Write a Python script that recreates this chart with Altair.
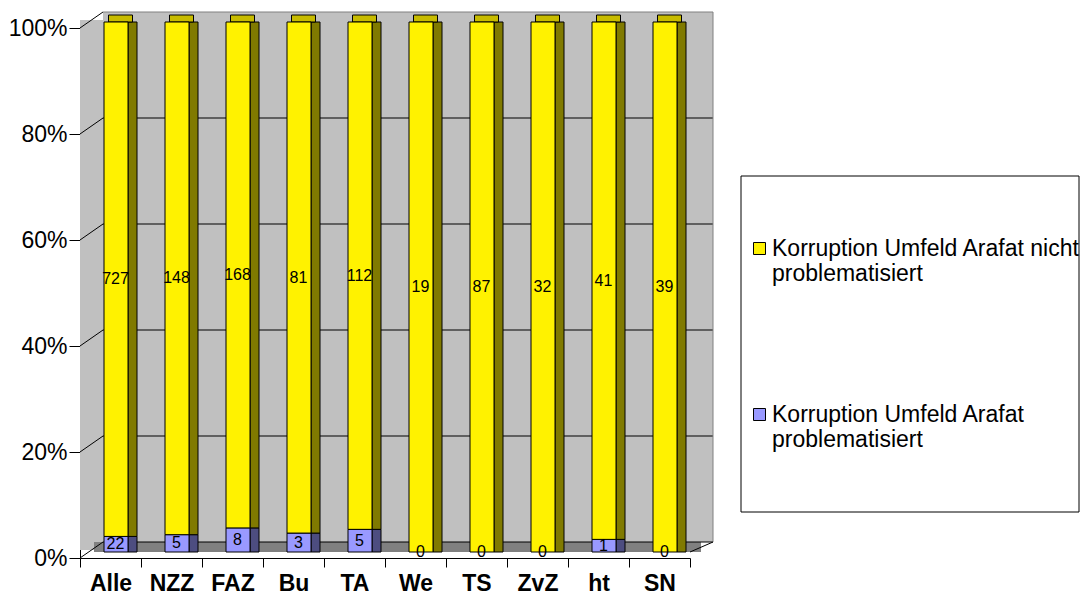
import altair as alt
import pandas as pd

categories = ["Alle", "NZZ", "FAZ", "Bu", "TA", "We", "TS", "ZvZ", "ht", "SN"]
problematisiert = [22, 5, 8, 3, 5, 0, 0, 0, 1, 0]
nicht_problematisiert = [727, 148, 168, 81, 112, 19, 87, 32, 41, 39]
series_names = ["Korruption Umfeld Arafat nicht problematisiert",
                "Korruption Umfeld Arafat problematisiert"]
y_ticks = [0, 0.2, 0.4, 0.6, 0.8, 1.0]

rows = []
for c, p, n in zip(categories, problematisiert, nicht_problematisiert):
    rows.append({"cat": c, "series": series_names[1], "value": p, "ord": 0})
    rows.append({"cat": c, "series": series_names[0], "value": n, "ord": 1})
df = pd.DataFrame(rows)
ticks_df = pd.DataFrame({"t": y_ticks})
one = pd.DataFrame({"k": [0]})

W, H = 610, 530
FONT = "Liberation Sans"
DX, DY = 23, -16

x_axis = alt.Axis(title=None, labelFont=FONT, labelFontSize=23, labelFontWeight="bold",
                  labelColor="black", labelAngle=0, tickBand="extent", tickSize=9,
                  tickColor="black", domainColor="black", labelPadding=5, grid=False)
y_axis = alt.Axis(title=None, values=y_ticks, format="%", labelFont=FONT, labelFontSize=23,
                  labelColor="black", tickSize=11, tickColor="black", domainColor="black",
                  labelPadding=2, grid=False)
ys = alt.Scale(domain=[0, 1])
X = alt.X("cat:N", sort=categories, scale=alt.Scale(paddingInner=0, paddingOuter=0), axis=x_axis)
Y = alt.Y("value:Q", stack="normalize", scale=ys, axis=y_axis)
ORD = alt.Order("ord:Q", sort="ascending")

wall = alt.Chart(one).mark_rect(fill="#c0c0c0").encode(
    x=alt.value(DX), x2=alt.value(W + DX), y=alt.value(DY), y2=alt.value(H + DY))
leftwall = alt.Chart(one).mark_rect(fill="#c0c0c0").encode(
    x=alt.value(0), x2=alt.value(DX), y=alt.value(-8), y2=alt.value(H - 8))
floor = alt.Chart(one).mark_rect(fill="#808080").encode(
    x=alt.value(14), x2=alt.value(W + 11), y=alt.value(H + DY), y2=alt.value(H - 6))

grid = alt.Chart(ticks_df).mark_rule(yOffset=DY).encode(
    x=alt.value(DX), x2=alt.value(W + DX), y=alt.Y("t:Q", scale=ys, axis=y_axis),
    color=alt.condition("datum.t >= 1", alt.value("#808080"), alt.value("black")))
diag = alt.Chart(ticks_df).mark_rule(y2Offset=DY, color="black").encode(
    x=alt.value(0), x2=alt.value(DX), y=alt.Y("t:Q", scale=ys, axis=y_axis), y2="t:Q")
redge = alt.Chart(one).mark_rule(color="#808080").encode(
    x=alt.value(W + DX), y=alt.value(DY), y2=alt.value(H + DY))
rdiag = alt.Chart(one).mark_rule(color="black").encode(
    x=alt.value(W), x2=alt.value(W + DX), y=alt.value(H - 6), y2=alt.value(H + DY))

sides = alt.Chart(df).transform_filter("datum.value > 0").mark_bar(
    size=9, xOffset=22, yOffset=-6, y2Offset=-13, stroke="black", strokeWidth=1).encode(
    x=X, y=Y, order=ORD,
    color=alt.Color("series:N", scale=alt.Scale(domain=series_names, range=["#807a00", "#4d4d80"]),
                    legend=None))
top = alt.Chart(df).transform_filter("datum.ord == 1").mark_bar(
    size=24, xOffset=10, yOffset=-13, y2Offset=-6, fill="#c8bc00", stroke="black", strokeWidth=1).encode(
    x=X, y=alt.YDatum(1, scale=ys, axis=y_axis), y2=alt.datum(1))

label_expr = ("[slice(datum.label, 0, lastindexof(datum.label, ' ')), "
              "slice(datum.label, lastindexof(datum.label, ' ') + 1)]")
front = alt.Chart(df).transform_filter("datum.value > 0").mark_bar(
    size=24, xOffset=5.5, yOffset=-6, y2Offset=-6, stroke="black", strokeWidth=1).encode(
    x=X, y=Y, order=ORD,
    color=alt.Color("series:N", scale=alt.Scale(domain=series_names, range=["#fff200", "#9999ff"]),
                    legend=alt.Legend(title=None, orient="none", legendX=668, legendY=209,
                                      symbolType="square", symbolSize=144,
                                      symbolStrokeColor="black", symbolStrokeWidth=1,
                                      labelFont=FONT, labelFontSize=23, labelColor="black",
                                      labelLimit=400, labelOffset=1, rowPadding=117,
                                      labelExpr=label_expr, labelBaseline="middle", padding=0)))

labels = alt.Chart(df).transform_stack(
    stack="value", groupby=["cat"], as_=["y0", "y1"], offset="normalize",
    sort=[alt.SortField("ord", "ascending")]).transform_calculate(
    mid="(datum.y0 + datum.y1) / 2").mark_text(
    xOffset=5, yOffset=-6, fontSize=16, font=FONT, color="black").encode(
    x=X, y=alt.Y("mid:Q", scale=ys, axis=y_axis), text="value:Q")

legbox = alt.Chart(one).mark_rect(fill="white", stroke="black", strokeWidth=1).encode(
    x=alt.value(661), x2=alt.value(999), y=alt.value(148), y2=alt.value(484))

chart = alt.layer(wall, leftwall, floor, grid, diag, redge, rdiag, sides, top, front, labels, legbox
                  ).resolve_scale(color="independent").properties(
    width=W, height=H, background="white",
    autosize=alt.AutoSizeParams(type="none"),
    padding={"left": 72, "top": 20, "right": 390, "bottom": 41}
).configure_view(stroke=None)

chart.save("out.html", embed_options={"renderer": "svg", "actions": False})
